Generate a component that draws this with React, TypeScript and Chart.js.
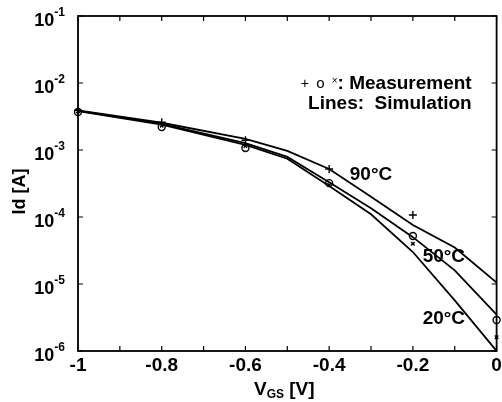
import { useEffect, useRef } from 'react';
import { Chart, registerables } from 'chart.js';
Chart.register(...registerables);

// Simulation curves (Id vs VGS)
const simX = [-1, -0.8, -0.6, -0.5, -0.4, -0.3, -0.2, -0.1, 0];
const sim90 = [3.9e-3, 2.55e-3, 1.46e-3, 9.7e-4, 5.2e-4, 2.0e-4, 7.6e-5, 3.5e-5, 1.05e-5];
const sim50 = [3.85e-3, 2.45e-3, 1.27e-3, 7.9e-4, 3.3e-4, 1.35e-4, 5.0e-5, 1.6e-5, 3.5e-6];
const sim20 = [3.8e-3, 2.4e-3, 1.19e-3, 7.4e-4, 2.9e-4, 1.1e-4, 3.0e-5, 5.7e-6, 1.0e-6];

// Measurements
const measX = [-1, -0.8, -0.6, -0.4, -0.2, 0];
const meas90 = [3.9e-3, 2.6e-3, 1.4e-3, 5.2e-4, 1.07e-4, null];
const meas50 = [3.7e-3, 2.2e-3, 1.07e-3, 3.2e-4, 5.2e-5, 2.9e-6];
const meas20 = [3.8e-3, 2.3e-3, 1.15e-3, 3.0e-4, 4.0e-5, 1.6e-6];

// Ticks
const xTickValues = [-1, -0.8, -0.6, -0.4, -0.2, 0];
const xTickLabels = ['-1', '-0.8', '-0.6', '-0.4', '-0.2', '0'];
const xMinorTicks = [-1, -0.9, -0.8, -0.7, -0.6, -0.5, -0.4, -0.3, -0.2, -0.1, 0];
const yTickExponents = [-1, -2, -3, -4, -5, -6];

// Annotations (data coordinates)
const tempLabels = [
  { text: '90°C', x: -0.3, y: 4.24e-4 },
  { text: '50°C', x: -0.126, y: 2.53e-5 },
  { text: '20°C', x: -0.126, y: 3.0e-6 },
];
const legendAnchor = { x: -0.0595, y1: 9.66e-3, y2: 4.86e-3 };

const FONT = '"Liberation Sans", Arial, Helvetica, sans-serif';

const toPts = (xs: number[], ys: (number | null)[]) =>
  xs.map((x, i) => ({ x, y: ys[i] as number })).filter((p) => p.y !== null);

const decorPlugin = {
  id: 'decor',
  afterDraw(chart: any) {
    const { ctx, chartArea: a, scales } = chart;
    const xs = scales.x;
    const ys = scales.y;
    ctx.save();
    ctx.strokeStyle = '#000';
    ctx.fillStyle = '#000';
    ctx.lineWidth = 1.8;
    ctx.strokeRect(a.left, a.top, a.right - a.left, a.bottom - a.top);
    ctx.lineWidth = 1.2;
    const tl = 5;
    ctx.beginPath();
    xMinorTicks.forEach((v) => {
      const px = xs.getPixelForValue(v);
      ctx.moveTo(px, a.bottom);
      ctx.lineTo(px, a.bottom - tl);
      ctx.moveTo(px, a.top);
      ctx.lineTo(px, a.top + tl);
    });
    yTickExponents.forEach((e) => {
      const py = ys.getPixelForValue(Math.pow(10, e));
      ctx.moveTo(a.left, py);
      ctx.lineTo(a.left + tl, py);
      ctx.moveTo(a.right, py);
      ctx.lineTo(a.right - tl, py);
    });
    ctx.stroke();

    // x tick labels
    ctx.font = `bold 19px ${FONT}`;
    ctx.textAlign = 'center';
    ctx.textBaseline = 'top';
    xTickValues.forEach((v, i) => {
      ctx.fillText(xTickLabels[i], xs.getPixelForValue(v), a.bottom + 5);
    });

    // y tick labels 10^e
    yTickExponents.forEach((e) => {
      const py = ys.getPixelForValue(Math.pow(10, e));
      ctx.font = `bold 12px ${FONT}`;
      const expTxt = String(e);
      const we = ctx.measureText(expTxt).width;
      const ex = a.left - 13 - we;
      ctx.textAlign = 'left';
      ctx.textBaseline = 'middle';
      ctx.fillText(expTxt, ex, py - 3);
      ctx.font = `bold 18px ${FONT}`;
      ctx.textAlign = 'right';
      ctx.fillText('10', ex, py + 5);
    });

    // y title
    ctx.save();
    ctx.translate(a.left - 58, (a.top + a.bottom) / 2 + 8);
    ctx.rotate(-Math.PI / 2);
    ctx.font = `bold 18px ${FONT}`;
    ctx.textAlign = 'center';
    ctx.textBaseline = 'middle';
    ctx.fillText('Id [A]', 0, 0);
    ctx.restore();

    // x title V_GS [V]
    {
      const cx = (a.left + a.right) / 2 - 3;
      const by = a.bottom + 44;
      const segs = [
        { t: 'V', f: `bold 19px ${FONT}`, dy: 0 },
        { t: 'GS', f: `bold 12px ${FONT}`, dy: 3 },
        { t: ' [V]', f: `bold 19px ${FONT}`, dy: 0 },
      ];
      let total = 0;
      segs.forEach((s) => {
        ctx.font = s.f;
        total += ctx.measureText(s.t).width;
      });
      let x = cx - total / 2;
      ctx.textAlign = 'left';
      ctx.textBaseline = 'alphabetic';
      segs.forEach((s) => {
        ctx.font = s.f;
        ctx.fillText(s.t, x, by + s.dy);
        x += ctx.measureText(s.t).width;
      });
    }

    // temperature labels
    ctx.font = `bold 19px ${FONT}`;
    ctx.textAlign = 'center';
    ctx.textBaseline = 'middle';
    tempLabels.forEach((l) => {
      ctx.fillText(l.text, xs.getPixelForValue(l.x), ys.getPixelForValue(l.y));
    });

    // legend text
    {
      const rx = xs.getPixelForValue(legendAnchor.x);
      const y1 = ys.getPixelForValue(legendAnchor.y1);
      const y2 = ys.getPixelForValue(legendAnchor.y2);
      const segs = [
        { t: '+', f: `14px ${FONT}`, dy: 0 },
        { t: '  ', f: `13px ${FONT}`, dy: 0 },
        { t: 'o', f: `15px ${FONT}`, dy: 0 },
        { t: '  ', f: `13px ${FONT}`, dy: 0 },
        { t: '×', f: `10px ${FONT}`, dy: -3 },
        { t: ': Measurement', f: `bold 19px ${FONT}`, dy: 0 },
      ];
      let total = 0;
      segs.forEach((s) => {
        ctx.font = s.f;
        total += ctx.measureText(s.t).width;
      });
      let x = rx - total;
      ctx.textAlign = 'left';
      ctx.textBaseline = 'middle';
      segs.forEach((s) => {
        ctx.font = s.f;
        ctx.fillText(s.t, x, y1 + s.dy);
        x += ctx.measureText(s.t).width;
      });
      ctx.font = `bold 19px ${FONT}`;
      ctx.textAlign = 'right';
      ctx.fillText('Lines:  Simulation', rx, y2);
    }
    ctx.restore();
  },
};

export default function App() {
  const ref = useRef<HTMLCanvasElement>(null);
  useEffect(() => {
    if (!ref.current) return;
    const lineDs = (data: number[]) => ({
      type: 'line' as const,
      data: toPts(simX, data),
      borderColor: '#000',
      borderWidth: 1.8,
      pointRadius: 0,
      tension: 0,
      fill: false,
    });
    const markDs = (data: (number | null)[], style: string, r: number) => ({
      type: 'scatter' as const,
      data: toPts(measX, data),
      showLine: false,
      pointStyle: style,
      pointRadius: r,
      borderColor: '#000',
      backgroundColor: 'rgba(0,0,0,0)',
      pointBorderWidth: 1.4,
      clip: false as any,
    });
    const chart = new Chart(ref.current, {
      type: 'line',
      data: {
        datasets: [
          lineDs(sim90),
          lineDs(sim50),
          lineDs(sim20),
          markDs(meas90, 'cross', 4),
          markDs(meas50, 'circle', 3.5),
          markDs(meas20, 'crossRot', 2.5),
        ] as any,
      },
      options: {
        animation: false,
        responsive: false,
        layout: { padding: { top: 16, right: 4, left: 0, bottom: 0 } },
        plugins: { legend: { display: false }, tooltip: { enabled: false } },
        scales: {
          x: {
            type: 'linear',
            min: -1,
            max: 0,
            grid: { display: false },
            border: { display: false },
            ticks: { display: false },
            afterFit: (s: any) => {
              s.height = 51;
            },
          },
          y: {
            type: 'logarithmic',
            min: 1e-6,
            max: 1e-1,
            grid: { display: false },
            border: { display: false },
            ticks: { display: false },
            afterFit: (s: any) => {
              s.width = 78;
            },
          },
        },
      },
      plugins: [decorPlugin],
    });
    return () => chart.destroy();
  }, []);
  return (
    <div style={{ position: 'fixed', left: 0, top: 0, width: 502, height: 402, background: '#fff' }}>
      <canvas ref={ref} width={502} height={402} style={{ width: 502, height: 402 }} />
    </div>
  );
}
